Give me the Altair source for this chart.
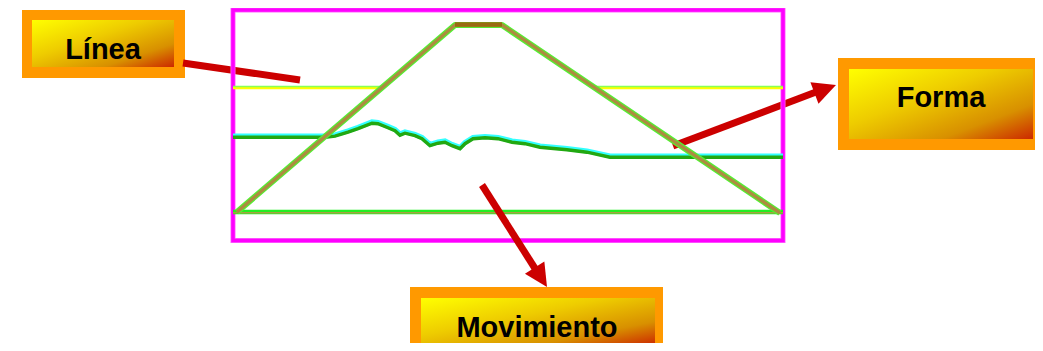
import altair as alt
import pandas as pd

# ---- data (page-pixel coordinates) ----
box_labels = ["Línea", "Forma", "Movimiento"]
outer_x1 = [22, 838, 410]
outer_x2 = [185, 1041, 663]
outer_y1 = [10, 58, 287]
outer_y2 = [78, 150, 352]
inner_x1 = [32, 849, 421]
inner_x2 = [174, 1033, 655]
inner_y1 = [20, 69, 298]
inner_y2 = [67, 139, 345]
label_x = [103, 941, 537]
label_y = [59, 107, 337]

frame_x = [233, 783]
frame_y = [10, 240.5]

yellow_seg = [0, 0, 1, 1]
yellow_x = [233, 381, 596, 783]
yellow_y = [87, 87, 87, 87]

base_x = [233, 783]
base_y = [212, 212]

trap_x = [237, 455, 502, 780]
trap_y = [212, 25, 25, 213]
top_x = [455, 502]
top_y = [24.5, 24.5]

wave_x = [233, 325, 335, 348, 358, 372, 378, 388, 395, 400, 405, 415, 422, 430,
          438, 445, 452, 460, 465, 473, 485, 498, 512, 525, 540, 567, 587, 610, 783]
wave_y = [136.5, 136.5, 135.5, 131.5, 128, 122.5, 123, 127, 130, 134.5, 132.5, 135,
          138, 145, 142.5, 141.5, 145, 148, 143, 138, 137, 138, 141.5, 143, 146.5,
          149, 151.5, 156.5, 156.5]

shaft_seg = ["Línea", "Línea", "Forma", "Forma"]
shaft_x = [183, 300, 673, 816]
shaft_y = [63, 80, 146, 92]
mov_shaft_x = [482, 536]
mov_shaft_y = [185, 270]

head_x = [836, 547]
head_y = [85, 287]
head_angle = [69.5, 147.5]

# ---- helpers ----
XS = alt.Scale(domain=[8, 1035], nice=False, zero=False)
YS = alt.Scale(domain=[8, 343], nice=False, zero=False, reverse=True)


def X(f):
    return alt.X(f, type="quantitative", scale=XS, axis=None)


def Y(f):
    return alt.Y(f, type="quantitative", scale=YS, axis=None)


def line_layer(df, color, width, yoff=0, detail=None, join="round"):
    kw = dict(color=color, strokeWidth=width, strokeCap="butt", strokeJoin=join,
              clip=False)
    if yoff:
        kw["yOffset"] = yoff
    enc = dict(x=X("x"), y=Y("y"), order="o:Q")
    if detail:
        enc["detail"] = detail + ":N"
    return alt.Chart(df).mark_line(**kw).encode(**enc)


boxes = pd.DataFrame(dict(label=box_labels, ox1=outer_x1, ox2=outer_x2, oy1=outer_y1,
                          oy2=outer_y2, ix1=inner_x1, ix2=inner_x2, iy1=inner_y1,
                          iy2=inner_y2, lx=label_x, ly=label_y))

outer = alt.Chart(boxes).mark_rect(color="#FF9900", clip=False).encode(
    x=X("ox1"), x2="ox2", y=Y("oy1"), y2="oy2")

grad = alt.Gradient(
    gradient="linear",
    stops=[alt.GradientStop(color="#FFFF00", offset=0),
           alt.GradientStop(color="#EECC00", offset=0.4),
           alt.GradientStop(color="#D89000", offset=0.75),
           alt.GradientStop(color="#CC2800", offset=1)],
    x1=0, y1=0, x2=1, y2=1)
inner = alt.Chart(boxes).mark_rect(fill=grad, clip=False).encode(
    x=X("ix1"), x2="ix2", y=Y("iy1"), y2="iy2")

labels = alt.Chart(boxes).mark_text(font="Liberation Sans", fontWeight="bold",
                                    fontSize=29, align="center",
                                    baseline="alphabetic", color="black").encode(
    x=X("lx"), y=Y("ly"), text="label:N")

shafts_df = pd.DataFrame(dict(s=shaft_seg, x=shaft_x, y=shaft_y, o=[0, 1, 0, 1]))
shafts = line_layer(shafts_df, "#CC0000", 7, detail="s")

frame_df = pd.DataFrame(dict(x1=[frame_x[0]], x2=[frame_x[1]], y1=[frame_y[0]], y2=[frame_y[1]]))
frame_glow = alt.Chart(frame_df).mark_rect(fillOpacity=0, stroke="#FF66FF",
                                           strokeWidth=5).encode(
    x=X("x1"), x2="x2", y=Y("y1"), y2="y2")
frame = alt.Chart(frame_df).mark_rect(fillOpacity=0, stroke="#FF00FF",
                                      strokeWidth=3.5).encode(
    x=X("x1"), x2="x2", y=Y("y1"), y2="y2")

yel_df = pd.DataFrame(dict(s=yellow_seg, x=yellow_x, y=yellow_y, o=[0, 1, 0, 1]))
yel1 = line_layer(yel_df, "#FFFF00", 2.5, yoff=1, detail="s")
yel2 = line_layer(yel_df, "#88FF55", 1.6, yoff=-0.5, detail="s")

base_df = pd.DataFrame(dict(x=base_x, y=base_y, o=[0, 1]))
base1 = line_layer(base_df, "#22EE22", 4.5)
base2 = line_layer(base_df, "#A8A040", 1.5, yoff=0.8)

wave_df = pd.DataFrame(dict(x=wave_x, y=wave_y, o=list(range(len(wave_x)))))
wave1 = line_layer(wave_df, "#33FFFF", 5, yoff=-0.6, join="miter")
wave2 = line_layer(wave_df, "#22A811", 3.4, yoff=0.7, join="miter")

trap_df = pd.DataFrame(dict(x=trap_x, y=trap_y, o=[0, 1, 2, 3]))
trap1 = line_layer(trap_df, "#55EE33", 6)
trap2 = line_layer(trap_df, "#AC8C40", 3.4)
top_df = pd.DataFrame(dict(x=top_x, y=top_y, o=[0, 1]))
trap_top = line_layer(top_df, "#9A6A12", 4.5)

mov_df = pd.DataFrame(dict(x=mov_shaft_x, y=mov_shaft_y, o=[0, 1]))
mov_shaft = line_layer(mov_df, "#CC0000", 7)

heads_df = pd.DataFrame(dict(x=head_x, y=head_y, a=head_angle))
heads = alt.Chart(heads_df).mark_point(
    shape="M0,0L-0.5,1L0.5,1Z", filled=True, color="#CC0000", opacity=1,
    size=2116, clip=False).encode(
    x=X("x"), y=Y("y"), angle=alt.Angle("a:Q", scale=None))

chart = alt.layer(
    outer, inner, labels, shafts, frame_glow, frame, yel1, yel2, base1, base2,
    wave1, wave2, trap1, trap2, trap_top, mov_shaft, heads
).properties(
    width=1027, height=335, padding=0, autosize="none", background="white"
).configure_view(stroke=None)

chart.save("out.html", embed_options={"renderer": "svg", "actions": False})
